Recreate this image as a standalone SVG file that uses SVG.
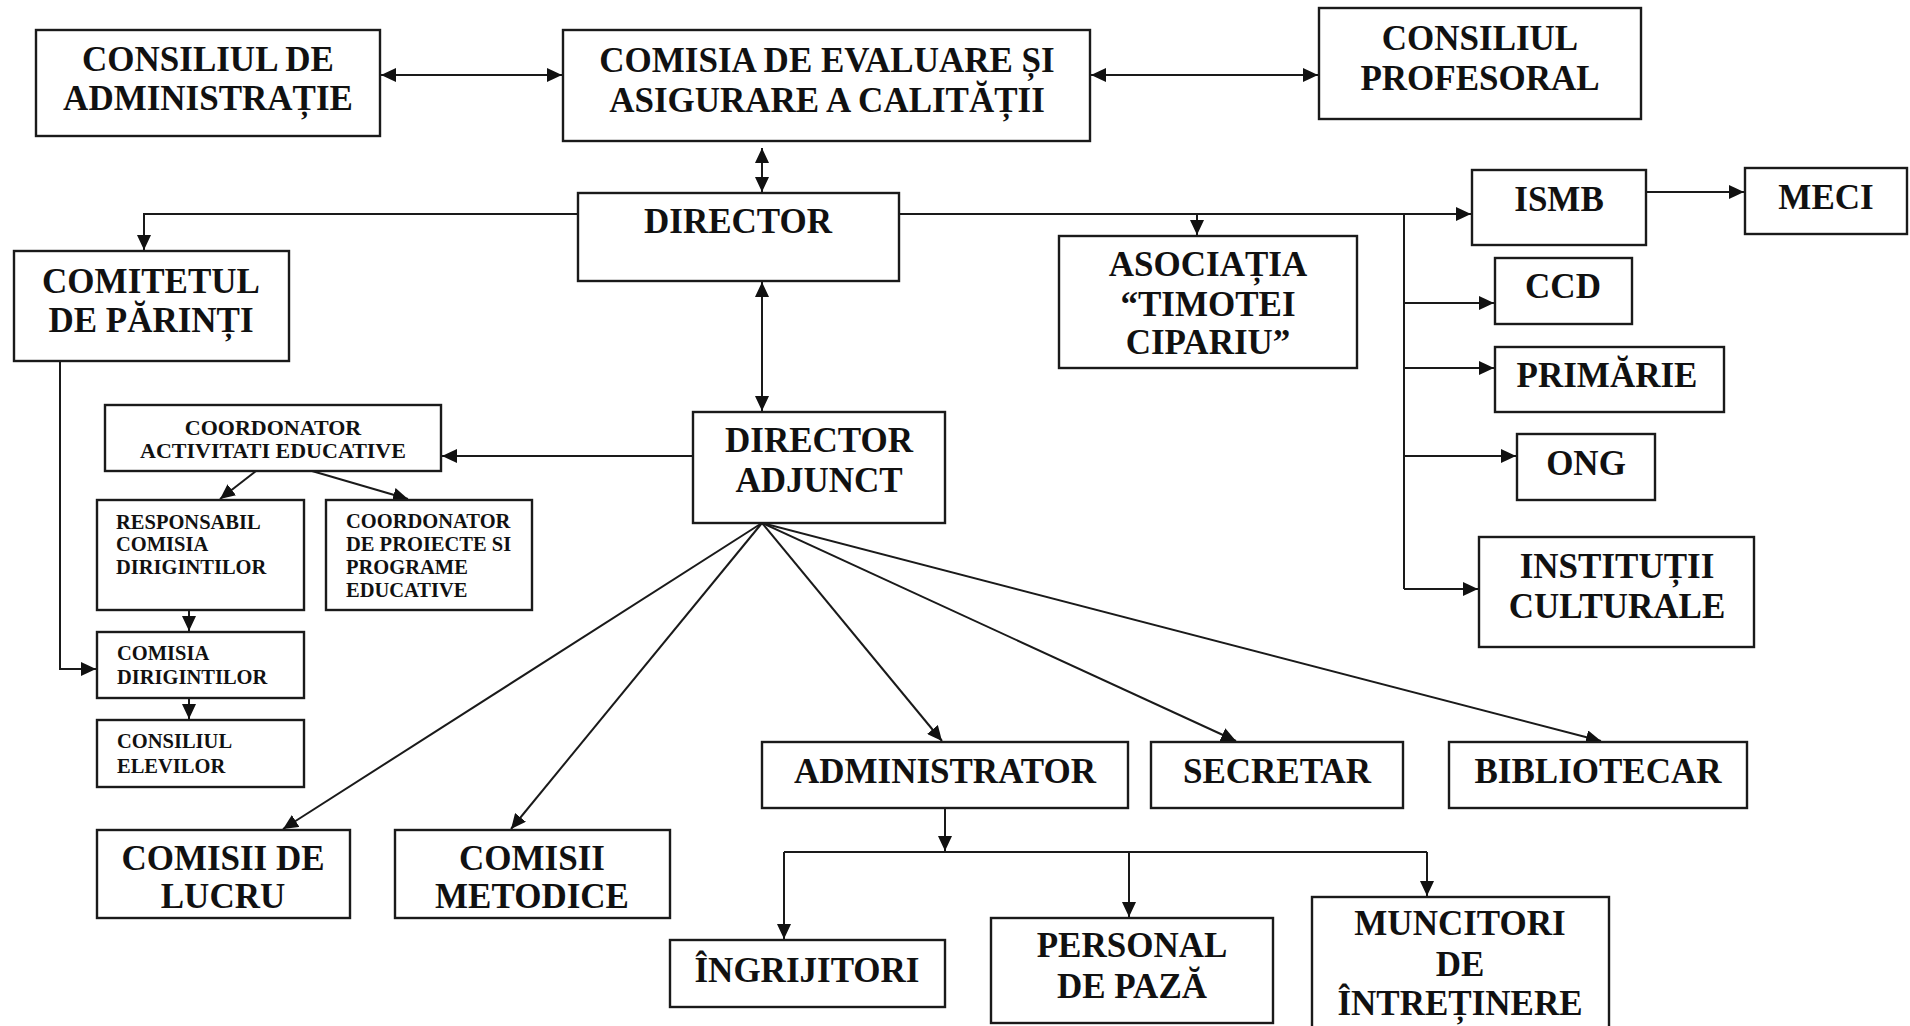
<svg xmlns="http://www.w3.org/2000/svg" width="1910" height="1026" viewBox="0 0 1910 1026">
<style>
  .box { fill: #ffffff; stroke: #1a1a1a; stroke-width: 2.4; }
  .t { font-family: "Liberation Serif", "Times New Roman", serif; font-weight: bold; fill: #111111; }
  .big { font-size: 35px; text-anchor: middle; }
  .mid { font-size: 22px; text-anchor: middle; }
  .sm { font-size: 20.5px; }
  .ln { fill: none; stroke: #1a1a1a; stroke-width: 2; }
  .ar { marker-end: url(#ah); }
  .ar2 { marker-start: url(#ahs); marker-end: url(#ah); }
</style>
<defs>
  <marker id="ah" markerUnits="userSpaceOnUse" markerWidth="16" markerHeight="14" refX="15" refY="7" orient="auto">
    <path d="M0,0 L15,7 L0,14 z" fill="#111111"/>
  </marker>
  <marker id="ahs" markerUnits="userSpaceOnUse" markerWidth="16" markerHeight="14" refX="0" refY="7" orient="auto">
    <path d="M15,0 L0,7 L15,14 z" fill="#111111"/>
  </marker>
</defs>
<rect x="0" y="0" width="1910" height="1026" fill="#ffffff"/>

<g id="connectors">
  <line class="ln ar2" x1="381" y1="75" x2="562" y2="75"/>
  <line class="ln ar2" x1="1091" y1="75" x2="1318" y2="75"/>
  <line class="ln ar2" x1="762" y1="148" x2="762" y2="192"/>
  <polyline class="ln ar" points="578,214 144,214 144,250"/>
  <line class="ln ar2" x1="762" y1="282" x2="762" y2="411"/>
  <line class="ln ar" x1="899" y1="214" x2="1471" y2="214"/>
  <line class="ln ar" x1="1197" y1="214" x2="1197" y2="235"/>
  <polyline class="ln" points="1404,214 1404,589"/>
  <line class="ln ar" x1="1404" y1="303" x2="1494" y2="303"/>
  <line class="ln ar" x1="1404" y1="368" x2="1494" y2="368"/>
  <line class="ln ar" x1="1404" y1="456" x2="1516" y2="456"/>
  <line class="ln ar" x1="1404" y1="589" x2="1478" y2="589"/>
  <line class="ln ar" x1="1646" y1="192" x2="1744" y2="192"/>
  <line class="ln ar" x1="693" y1="456" x2="442" y2="456"/>
  <line class="ln ar" x1="256" y1="471" x2="220" y2="499"/>
  <line class="ln ar" x1="312" y1="471" x2="408" y2="499"/>
  <line class="ln ar" x1="189" y1="610" x2="189" y2="631"/>
  <line class="ln ar" x1="189" y1="698" x2="189" y2="719"/>
  <polyline class="ln ar" points="60,361 60,669 96,669"/>
  <line class="ln ar" x1="762" y1="523" x2="283" y2="829"/>
  <line class="ln ar" x1="762" y1="523" x2="511" y2="829"/>
  <line class="ln ar" x1="762" y1="523" x2="942" y2="741"/>
  <line class="ln ar" x1="762" y1="523" x2="1236" y2="741"/>
  <line class="ln ar" x1="762" y1="523" x2="1601" y2="741"/>
  <line class="ln ar" x1="945" y1="808" x2="945" y2="851"/>
  <polyline class="ln" points="784,852 1427,852"/>
  <line class="ln ar" x1="784" y1="852" x2="784" y2="939"/>
  <line class="ln ar" x1="1129" y1="852" x2="1129" y2="917"/>
  <line class="ln ar" x1="1427" y1="852" x2="1427" y2="896"/>
</g>

<g id="consiliul-administratie">
  <rect class="box" x="36" y="30" width="344" height="106"/>
  <text class="t big" x="208" y="71">CONSILIUL DE</text>
  <text class="t big" x="208" y="110">ADMINISTRAȚIE</text>
</g>
<g id="comisia-evaluare">
  <rect class="box" x="563" y="30" width="527" height="111"/>
  <text class="t big" x="827" y="72">COMISIA DE EVALUARE ȘI</text>
  <text class="t big" x="827" y="112">ASIGURARE A CALITĂȚII</text>
</g>
<g id="consiliul-profesoral">
  <rect class="box" x="1319" y="8" width="322" height="111"/>
  <text class="t big" x="1480" y="50">CONSILIUL</text>
  <text class="t big" x="1480" y="90">PROFESORAL</text>
</g>
<g id="director">
  <rect class="box" x="578" y="193" width="321" height="88"/>
  <text class="t big" x="738" y="233">DIRECTOR</text>
</g>
<g id="comitetul-parinti">
  <rect class="box" x="14" y="251" width="275" height="110"/>
  <text class="t big" x="151" y="293">COMITETUL</text>
  <text class="t big" x="151" y="332">DE PĂRINȚI</text>
</g>
<g id="asociatia">
  <rect class="box" x="1059" y="236" width="298" height="132"/>
  <text class="t big" x="1208" y="276">ASOCIAȚIA</text>
  <text class="t big" x="1208" y="316">“TIMOTEI</text>
  <text class="t big" x="1208" y="354">CIPARIU”</text>
</g>
<g id="ismb">
  <rect class="box" x="1472" y="170" width="174" height="75"/>
  <text class="t big" x="1559" y="211">ISMB</text>
</g>
<g id="meci">
  <rect class="box" x="1745" y="168" width="162" height="66"/>
  <text class="t big" x="1826" y="209">MECI</text>
</g>
<g id="ccd">
  <rect class="box" x="1495" y="258" width="137" height="66"/>
  <text class="t big" x="1563" y="298">CCD</text>
</g>
<g id="primarie">
  <rect class="box" x="1495" y="347" width="229" height="65"/>
  <text class="t big" x="1607" y="387">PRIMĂRIE</text>
</g>
<g id="ong">
  <rect class="box" x="1517" y="434" width="138" height="66"/>
  <text class="t big" x="1586" y="475">ONG</text>
</g>
<g id="institutii">
  <rect class="box" x="1479" y="537" width="275" height="110"/>
  <text class="t big" x="1617" y="578">INSTITUȚII</text>
  <text class="t big" x="1617" y="618">CULTURALE</text>
</g>
<g id="coordonator-activitati">
  <rect class="box" x="105" y="405" width="336" height="66"/>
  <text class="t mid" x="273" y="435">COORDONATOR</text>
  <text class="t mid" x="273" y="458">ACTIVITATI EDUCATIVE</text>
</g>
<g id="director-adjunct">
  <rect class="box" x="693" y="412" width="252" height="111"/>
  <text class="t big" x="819" y="452">DIRECTOR</text>
  <text class="t big" x="819" y="492">ADJUNCT</text>
</g>
<g id="responsabil">
  <rect class="box" x="97" y="500" width="207" height="110"/>
  <text class="t sm" x="116" y="529">RESPONSABIL</text>
  <text class="t sm" x="116" y="551">COMISIA</text>
  <text class="t sm" x="116" y="574">DIRIGINTILOR</text>
</g>
<g id="coordonator-proiecte">
  <rect class="box" x="326" y="500" width="206" height="110"/>
  <text class="t sm" x="346" y="528">COORDONATOR</text>
  <text class="t sm" x="346" y="551">DE PROIECTE SI</text>
  <text class="t sm" x="346" y="574">PROGRAME</text>
  <text class="t sm" x="346" y="597">EDUCATIVE</text>
</g>
<g id="comisia-dirigintilor">
  <rect class="box" x="97" y="632" width="207" height="66"/>
  <text class="t sm" x="117" y="660">COMISIA</text>
  <text class="t sm" x="117" y="684">DIRIGINTILOR</text>
</g>
<g id="consiliul-elevilor">
  <rect class="box" x="97" y="720" width="207" height="67"/>
  <text class="t sm" x="117" y="748">CONSILIUL</text>
  <text class="t sm" x="117" y="773">ELEVILOR</text>
</g>
<g id="administrator">
  <rect class="box" x="762" y="742" width="366" height="66"/>
  <text class="t big" x="945" y="783">ADMINISTRATOR</text>
</g>
<g id="secretar">
  <rect class="box" x="1151" y="742" width="252" height="66"/>
  <text class="t big" x="1277" y="783">SECRETAR</text>
</g>
<g id="bibliotecar">
  <rect class="box" x="1449" y="742" width="298" height="66"/>
  <text class="t big" x="1598" y="783">BIBLIOTECAR</text>
</g>
<g id="comisii-lucru">
  <rect class="box" x="97" y="830" width="253" height="88"/>
  <text class="t big" x="223" y="870">COMISII DE</text>
  <text class="t big" x="223" y="908">LUCRU</text>
</g>
<g id="comisii-metodice">
  <rect class="box" x="395" y="830" width="275" height="88"/>
  <text class="t big" x="532" y="870">COMISII</text>
  <text class="t big" x="532" y="908">METODICE</text>
</g>
<g id="ingrijitori">
  <rect class="box" x="670" y="940" width="275" height="67"/>
  <text class="t big" x="807" y="982">ÎNGRIJITORI</text>
</g>
<g id="personal-paza">
  <rect class="box" x="991" y="918" width="282" height="105"/>
  <text class="t big" x="1132" y="957">PERSONAL</text>
  <text class="t big" x="1132" y="998">DE PAZĂ</text>
</g>
<g id="muncitori">
  <rect class="box" x="1312" y="897" width="297" height="140"/>
  <text class="t big" x="1460" y="935">MUNCITORI</text>
  <text class="t big" x="1460" y="976">DE</text>
  <text class="t big" x="1460" y="1015">ÎNTREȚINERE</text>
</g>
</svg>
